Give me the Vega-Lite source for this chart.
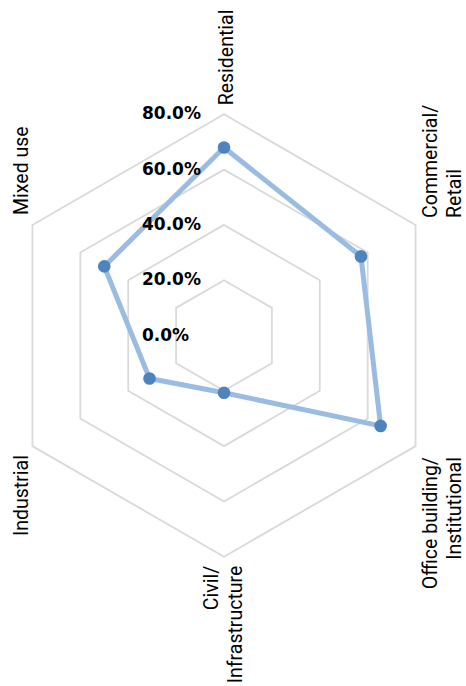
{
  "$schema": "https://vega.github.io/schema/vega-lite/v6.json",
  "width": 466,
  "height": 686,
  "autosize": "none",
  "padding": 0,
  "background": "white",
  "config": {"view": {"stroke": null}},
  "datasets": {
    "cats": [
      {"category": "Residential", "label": "Residential", "idx": 0, "value": 68},
      {"category": "Commercial/Retail", "label": "Commercial/\nRetail", "idx": 1, "value": 57.2},
      {"category": "Office building/Institutional", "label": "Office building/\nInstitutional", "idx": 2, "value": 65.4},
      {"category": "Civil/Infrastructure", "label": "Civil/\nInfrastructure", "idx": 3, "value": 20.7},
      {"category": "Industrial", "label": "Industrial", "idx": 4, "value": 31.1},
      {"category": "Mixed use", "label": "Mixed use", "idx": 5, "value": 50}
    ],
    "grid": [
      {"level": 20, "idx": 0}, {"level": 20, "idx": 1}, {"level": 20, "idx": 2}, {"level": 20, "idx": 3}, {"level": 20, "idx": 4}, {"level": 20, "idx": 5},
      {"level": 40, "idx": 0}, {"level": 40, "idx": 1}, {"level": 40, "idx": 2}, {"level": 40, "idx": 3}, {"level": 40, "idx": 4}, {"level": 40, "idx": 5},
      {"level": 60, "idx": 0}, {"level": 60, "idx": 1}, {"level": 60, "idx": 2}, {"level": 60, "idx": 3}, {"level": 60, "idx": 4}, {"level": 60, "idx": 5},
      {"level": 80, "idx": 0}, {"level": 80, "idx": 1}, {"level": 80, "idx": 2}, {"level": 80, "idx": 3}, {"level": 80, "idx": 4}, {"level": 80, "idx": 5}
    ],
    "ticks": [
      {"level": 0, "pct": 0},
      {"level": 20, "pct": 0.2},
      {"level": 40, "pct": 0.4},
      {"level": 60, "pct": 0.6},
      {"level": 80, "pct": 0.8}
    ]
  },
  "resolve": {"scale": {"x": "shared", "y": "shared"}},
  "layer": [
    {
      "data": {"name": "grid"},
      "transform": [
        {"calculate": "PI/2 - datum.idx*PI/3", "as": "ang"},
        {"calculate": "datum.level*cos(datum.ang)", "as": "px"},
        {"calculate": "datum.level*sin(datum.ang)", "as": "py"}
      ],
      "mark": {"type": "line", "interpolate": "linear-closed", "stroke": "#d9d9d9", "strokeWidth": 1.8},
      "encoding": {
        "x": {"field": "px", "type": "quantitative", "scale": {"domain": [-81.01, 87.52], "nice": false, "zero": false}, "axis": null},
        "y": {"field": "py", "type": "quantitative", "scale": {"domain": [-126.76, 121.34], "nice": false, "zero": false}, "axis": null},
        "detail": {"field": "level"},
        "order": {"field": "idx"}
      }
    },
    {
      "data": {"name": "cats"},
      "transform": [
        {"calculate": "PI/2 - datum.idx*PI/3", "as": "ang"},
        {"calculate": "datum.value*cos(datum.ang)", "as": "px"},
        {"calculate": "datum.value*sin(datum.ang)", "as": "py"}
      ],
      "mark": {"type": "line", "interpolate": "linear-closed", "stroke": "#9abbe2", "strokeWidth": 5},
      "encoding": {
        "x": {"field": "px", "type": "quantitative"},
        "y": {"field": "py", "type": "quantitative"},
        "order": {"field": "idx"}
      }
    },
    {
      "data": {"name": "cats"},
      "transform": [
        {"calculate": "PI/2 - datum.idx*PI/3", "as": "ang"},
        {"calculate": "datum.value*cos(datum.ang)", "as": "px"},
        {"calculate": "datum.value*sin(datum.ang)", "as": "py"}
      ],
      "mark": {"type": "point", "filled": true, "shape": "circle", "size": 160, "color": "#4e84be", "opacity": 1},
      "encoding": {
        "x": {"field": "px", "type": "quantitative"},
        "y": {"field": "py", "type": "quantitative"}
      }
    },
    {
      "data": {"name": "ticks"},
      "mark": {"type": "text", "align": "left", "baseline": "middle", "dx": -82, "font": "DejaVu Sans", "fontWeight": "bold", "fontSize": 17, "color": "#000000"},
      "encoding": {
        "x": {"datum": 0, "type": "quantitative"},
        "y": {"field": "level", "type": "quantitative"},
        "text": {"field": "pct", "type": "quantitative", "format": ".1%"}
      }
    },
    {
      "data": {"name": "cats"},
      "transform": [
        {"filter": "datum.idx == 0"},
        {"calculate": "PI/2 - datum.idx*PI/3", "as": "ang"},
        {"calculate": "80*cos(datum.ang)", "as": "lx"},
        {"calculate": "80*sin(datum.ang)", "as": "ly"}
      ],
      "mark": {"type": "text", "angle": 270, "align": "left", "baseline": "middle", "dx": 9, "dy": 3, "font": "Roboto", "fontSize": 19.5, "lineBreak": "\n", "lineHeight": 24, "color": "#000000"},
      "encoding": {
        "x": {"field": "lx", "type": "quantitative"},
        "y": {"field": "ly", "type": "quantitative"},
        "text": {"field": "label"}
      }
    },
    {
      "data": {"name": "cats"},
      "transform": [
        {"filter": "datum.idx == 1"},
        {"calculate": "PI/2 - datum.idx*PI/3", "as": "ang"},
        {"calculate": "80*cos(datum.ang)", "as": "lx"},
        {"calculate": "80*sin(datum.ang)", "as": "ly"}
      ],
      "mark": {"type": "text", "angle": 270, "align": "left", "baseline": "middle", "dx": 7, "dy": 15, "font": "Roboto", "fontSize": 19.5, "lineBreak": "\n", "lineHeight": 24, "color": "#000000"},
      "encoding": {
        "x": {"field": "lx", "type": "quantitative"},
        "y": {"field": "ly", "type": "quantitative"},
        "text": {"field": "label"}
      }
    },
    {
      "data": {"name": "cats"},
      "transform": [
        {"filter": "datum.idx == 2"},
        {"calculate": "PI/2 - datum.idx*PI/3", "as": "ang"},
        {"calculate": "80*cos(datum.ang)", "as": "lx"},
        {"calculate": "80*sin(datum.ang)", "as": "ly"}
      ],
      "mark": {"type": "text", "angle": 270, "align": "right", "baseline": "middle", "dx": -11, "dy": 15, "font": "Roboto", "fontSize": 19.5, "lineBreak": "\n", "lineHeight": 24, "color": "#000000"},
      "encoding": {
        "x": {"field": "lx", "type": "quantitative"},
        "y": {"field": "ly", "type": "quantitative"},
        "text": {"field": "label"}
      }
    },
    {
      "data": {"name": "cats"},
      "transform": [
        {"filter": "datum.idx == 3"},
        {"calculate": "PI/2 - datum.idx*PI/3", "as": "ang"},
        {"calculate": "80*cos(datum.ang)", "as": "lx"},
        {"calculate": "80*sin(datum.ang)", "as": "ly"}
      ],
      "mark": {"type": "text", "angle": 270, "align": "right", "baseline": "middle", "dx": -9, "dy": -12, "font": "Roboto", "fontSize": 19.5, "lineBreak": "\n", "lineHeight": 24, "color": "#000000"},
      "encoding": {
        "x": {"field": "lx", "type": "quantitative"},
        "y": {"field": "ly", "type": "quantitative"},
        "text": {"field": "label"}
      }
    },
    {
      "data": {"name": "cats"},
      "transform": [
        {"filter": "datum.idx == 4"},
        {"calculate": "PI/2 - datum.idx*PI/3", "as": "ang"},
        {"calculate": "80*cos(datum.ang)", "as": "lx"},
        {"calculate": "80*sin(datum.ang)", "as": "ly"}
      ],
      "mark": {"type": "text", "angle": 270, "align": "right", "baseline": "middle", "dx": -9, "dy": -10, "font": "Roboto", "fontSize": 19.5, "lineBreak": "\n", "lineHeight": 24, "color": "#000000"},
      "encoding": {
        "x": {"field": "lx", "type": "quantitative"},
        "y": {"field": "ly", "type": "quantitative"},
        "text": {"field": "label"}
      }
    },
    {
      "data": {"name": "cats"},
      "transform": [
        {"filter": "datum.idx == 5"},
        {"calculate": "PI/2 - datum.idx*PI/3", "as": "ang"},
        {"calculate": "80*cos(datum.ang)", "as": "lx"},
        {"calculate": "80*sin(datum.ang)", "as": "ly"}
      ],
      "mark": {"type": "text", "angle": 270, "align": "left", "baseline": "middle", "dx": 10, "dy": -10, "font": "Roboto", "fontSize": 19.5, "lineBreak": "\n", "lineHeight": 24, "color": "#000000"},
      "encoding": {
        "x": {"field": "lx", "type": "quantitative"},
        "y": {"field": "ly", "type": "quantitative"},
        "text": {"field": "label"}
      }
    }
  ]
}
